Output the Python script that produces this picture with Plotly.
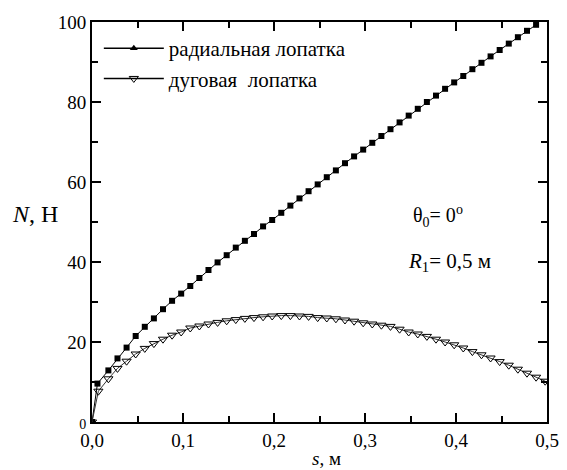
import plotly.graph_objects as go

# --- data ---
s_radial = [0.0, 0.006, 0.018, 0.028, 0.038, 0.048, 0.058, 0.068, 0.078, 0.088,
            0.098, 0.108, 0.118, 0.128, 0.138, 0.148, 0.158, 0.168, 0.178, 0.188,
            0.198, 0.208, 0.218, 0.228, 0.238, 0.248, 0.258, 0.268, 0.278, 0.288,
            0.298, 0.308, 0.318, 0.328, 0.338, 0.348, 0.358, 0.368, 0.378, 0.388,
            0.398, 0.408, 0.418, 0.428, 0.438, 0.448, 0.458, 0.468, 0.478, 0.488]
N_radial = [0.0, 9.6, 12.9, 15.9, 18.6, 21.5, 23.8, 25.9, 28.2, 30.3,
            32.1, 34.0, 36.0, 38.0, 39.9, 41.7, 43.6, 45.3, 47.0, 48.9,
            50.5, 52.3, 54.1, 55.9, 57.7, 59.4, 61.2, 62.9, 64.7, 66.4,
            68.1, 69.8, 71.5, 73.2, 74.9, 76.6, 78.3, 80.0, 81.6, 83.3,
            84.9, 86.5, 88.2, 89.8, 91.4, 93.0, 94.6, 96.2, 97.8, 99.3]

s_arc = [0.0, 0.007, 0.018, 0.028, 0.038, 0.048, 0.058, 0.068, 0.078, 0.088,
         0.098, 0.108, 0.118, 0.128, 0.138, 0.148, 0.158, 0.168, 0.178, 0.188,
         0.198, 0.208, 0.218, 0.228, 0.238, 0.248, 0.258, 0.268, 0.278, 0.288,
         0.298, 0.308, 0.318, 0.328, 0.338, 0.348, 0.358, 0.368, 0.378, 0.388,
         0.398, 0.408, 0.418, 0.428, 0.438, 0.448, 0.458, 0.468, 0.478, 0.488, 0.498]
N_arc = [0.0, 7.7, 10.8, 13.4, 15.2, 17.0, 18.4, 19.6, 20.7, 21.7,
         22.5, 23.5, 24.0, 24.5, 24.9, 25.3, 25.6, 25.9, 26.1, 26.3,
         26.5, 26.6, 26.6, 26.5, 26.4, 26.1, 26.0, 25.8, 25.5, 25.2,
         24.8, 24.5, 24.2, 23.9, 23.2, 22.5, 22.0, 21.4, 20.7, 20.0,
         19.3, 18.5, 17.6, 16.8, 16.0, 15.1, 14.2, 13.2, 12.2, 11.2, 10.2]

x_tickvals = [0.0, 0.1, 0.2, 0.3, 0.4, 0.5]
x_ticktext = ["0,0", "0,1", "0,2", "0,3", "0,4", "0,5"]
y_tickvals = [0, 20, 40, 60, 80, 100]
y_ticktext = ['<span style="font-size:14px">0</span>', "20", "40", "60", "80", "100"]

legend_names = ["радиальная лопатка", "дуговая  лопатка"]

FONT = "Liberation Serif"

fig = go.Figure()

# data traces (no legend)
fig.add_trace(go.Scatter(
    x=s_radial, y=N_radial, mode="lines+markers", showlegend=False,
    line=dict(color="black", width=1),
    marker=dict(symbol="square", size=6, color="black", line=dict(width=0)),
))
fig.add_trace(go.Scatter(
    x=s_arc, y=N_arc, mode="lines+markers", showlegend=False,
    line=dict(color="#333333", width=1),
    marker=dict(symbol="triangle-down-open", size=8, color="black", line=dict(width=1)),
))

# legend entries (as in the reference legend)
fig.add_trace(go.Scatter(
    x=[None], y=[None], mode="lines+markers", name=legend_names[0],
    line=dict(color="black", width=1.5),
    marker=dict(symbol="triangle-up", size=7, color="black"),
))
fig.add_trace(go.Scatter(
    x=[None], y=[None], mode="lines+markers", name=legend_names[1],
    line=dict(color="black", width=1.5),
    marker=dict(symbol="triangle-down-open", size=8, color="black", line=dict(width=1)),
))

axis_common = dict(
    showgrid=False, zeroline=False, showline=True, linecolor="black", linewidth=2,
    mirror="ticks", ticks="inside", tickcolor="black", tickwidth=2, automargin=False,
    tickfont=dict(family=FONT, size=19, color="black"),
)

fig.update_xaxes(
    range=[0, 0.5], tickvals=x_tickvals, ticktext=x_ticktext, ticklen=9,
    minor=dict(ticks="inside", dtick=0.05, ticklen=6, tickcolor="black", tickwidth=2),
    **axis_common,
)
fig.update_yaxes(
    range=[0, 100], tickvals=y_tickvals, ticktext=y_ticktext, ticklen=9,
    minor=dict(ticks="inside", dtick=10, ticklen=6, tickcolor="black", tickwidth=2),
    **axis_common,
)

# page body adds an 8px offset, so the figure is sized/placed to compensate
fig.update_layout(
    width=559, height=462,
    margin=dict(l=84, r=20, t=14, b=48, autoexpand=False),
    plot_bgcolor="white", paper_bgcolor="white",
    font=dict(family=FONT, color="black"),
    showlegend=True,
    legend=dict(x=0.015, y=0.985, xanchor="left", yanchor="top",
                bgcolor="rgba(0,0,0,0)", borderwidth=0, itemwidth=60,
                font=dict(family=FONT, size=21, color="black"),
                tracegroupgap=0),
    annotations=[
        dict(text="<i>N</i>, Н", xref="paper", yref="paper", x=-0.18, y=0.52,
             xanchor="left", yanchor="middle", showarrow=False,
             font=dict(family=FONT, size=24, color="black")),
        dict(text="<i>s</i>, м", xref="paper", yref="paper", x=0.515, y=-0.09,
             xanchor="center", yanchor="middle", showarrow=False,
             font=dict(family=FONT, size=19, color="black")),
        dict(text="θ<sub>0</sub>= 0<sup>o</sup>", xref="paper", yref="paper",
             x=0.70, y=0.515, xanchor="left", yanchor="middle", showarrow=False,
             font=dict(family=FONT, size=20, color="black")),
        dict(text="<i>R</i><sub>1</sub>= 0,5 м", xref="paper", yref="paper",
             x=0.69, y=0.40, xanchor="left", yanchor="middle", showarrow=False,
             font=dict(family=FONT, size=21, color="black")),
    ],
)

fig.write_html("out.html")
